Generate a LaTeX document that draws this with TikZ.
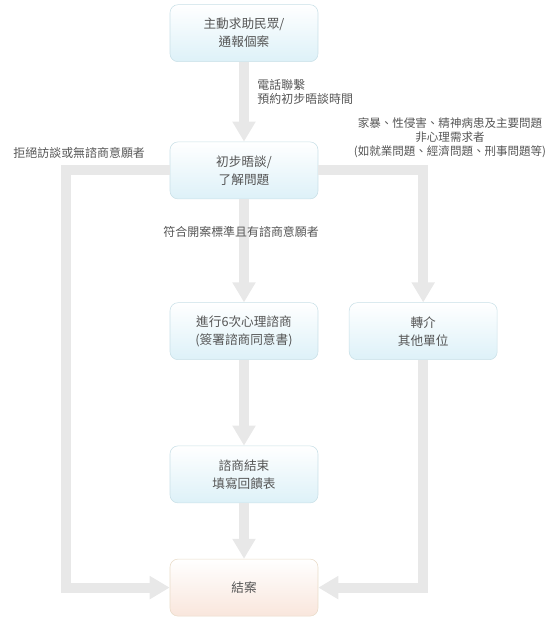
\documentclass[tikz,border=0pt]{standalone}
\usepackage{fontspec}
\setmainfont{Noto Sans CJK TC}
\usepackage{tikz}
\usetikzlibrary{positioning,arrows.meta,calc}
\usepackage{xcolor}
\definecolor{flowgray}{HTML}{E8E8E8}
\definecolor{boxline}{HTML}{C9E0E7}
\definecolor{boxfill}{HTML}{DDF1F8}
\definecolor{endline}{HTML}{E9DCC9}
\definecolor{endfill}{HTML}{F9E6DC}
\definecolor{txtgray}{HTML}{555555}

\begin{document}
\begin{tikzpicture}[x=1cm,y=1cm,every node/.style={font=\fontsize{8.5}{10}\selectfont,text=txtgray},
  box/.style={draw=boxline,rounded corners=0.2cm,minimum width=3.7cm,minimum height=1.425cm,
    align=center,top color=white,bottom color=boxfill,font=\fontsize{9}{12.8}\selectfont},
  endbox/.style={box,draw=endline,bottom color=endfill},
  flow/.style={draw=flowgray,line width=0.25cm,-{Triangle[width=0.55cm,length=0.5cm]}},
  note/.style={inner sep=0pt,align=left}]
\useasboundingbox (0,0) rectangle (13.775,-15.65);
\node[box] (seek) at (6.1,-0.83) {主動求助民眾/\\通報個案};
\node[box] (intake) at (6.1,-4.26) {初步晤談/\\了解問題};
\node[box] (counsel) at (6.1,-8.28) {進行6次心理諮商\\(簽署諮商同意書)};
\node[box] (refer) at (10.58,-8.28) {轉介\\其他單位};
\node[box] (feedback) at (6.1,-11.86) {諮商結束\\填寫回饋表};
\node[endbox] (close) at (6.1,-14.69) {結案};
\coordinate (lbar) at (1.65,0);
% flow
\draw[flow] (seek) -- (intake);
\draw[flow] (intake) -- (counsel);
\draw[flow] (counsel) -- (feedback);
\draw[flow] (feedback) -- (close);
\draw[flow] (intake.east) -| (refer.north);
\draw[flow] (refer.south) |- (close.east);
\draw[flow] (intake.west) -- (intake.west -| lbar) -- (close.west -| lbar) -- (close.west);
% labels
\node[note,anchor=west] (phone) at (6.43,-2.3) {電話聯繫\\預約初步晤談時間};
\node[note,anchor=west] (refuse) at (0.33,-3.83) {拒絕訪談或無諮商意願者};
\node[note,align=center,font=\fontsize{8.2}{9.8}\selectfont] (other) at (11.25,-3.45)
  {家暴、性侵害、精神病患及主要問題\\非心理需求者\\(如就業問題、經濟問題、刑事問題等)};
\node[note,anchor=west] (accept) at (4.08,-5.8) {符合開案標準且有諮商意願者};
\end{tikzpicture}
\end{document}
